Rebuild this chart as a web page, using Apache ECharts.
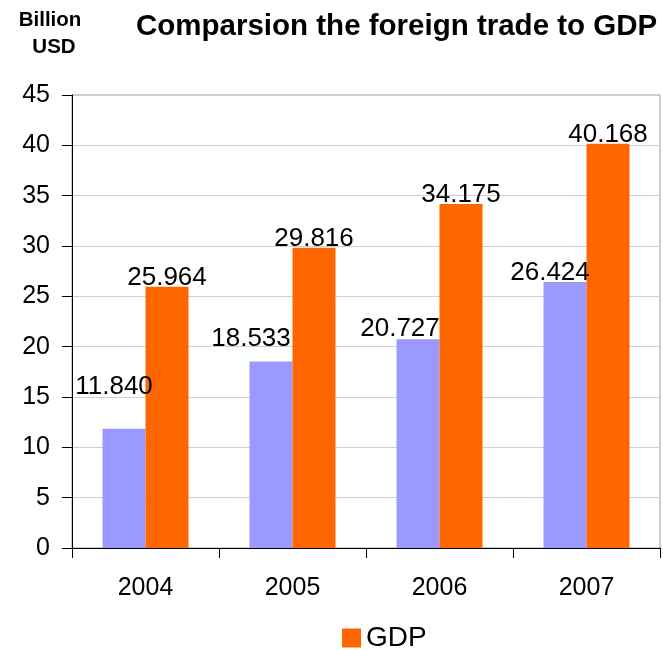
<!DOCTYPE html>
<html>
<head>
<meta charset="utf-8">
<script src="https://cdn.jsdelivr.net/npm/echarts@6/dist/echarts.min.js"></script>
<style>
  html, body { margin: 0; padding: 0; background: #fff; }
  #chart { width: 663px; height: 650px; }
</style>
</head>
<body>
<div id="chart"></div>
<script>
// Foreign trade vs GDP, billion USD
const years = ['2004', '2005', '2006', '2007'];
const foreignTrade = [11.840, 18.533, 20.727, 26.424];
const gdp = [25.964, 29.816, 34.175, 40.168];
const yTicks = { min: 0, max: 45, interval: 5 };

// Where each foreign-trade value label sits relative to its bar top
const tradeLabelNudge = [[-10, -33], [-20, -14], [-18, -2], [-15, 0]];

const FONT = '"Liberation Sans", Arial, sans-serif';

const chart = echarts.init(document.getElementById('chart'), null, { renderer: 'canvas' });

chart.setOption({
  animation: false,
  textStyle: { fontFamily: FONT },
  title: {
    text: 'Comparsion the foreign trade to GDP',
    left: 131,
    top: 7,
    textStyle: { fontFamily: FONT, fontWeight: 'bold', fontSize: 29.5, color: '#000' }
  },
  graphic: [
    { type: 'text', x: 50, y: 20, style: { text: 'Billion', font: 'bold 20.5px ' + FONT, fill: '#000', textAlign: 'center', textVerticalAlign: 'middle' } },
    { type: 'text', x: 54, y: 47, style: { text: 'USD', font: 'bold 20.5px ' + FONT, fill: '#000', textAlign: 'center', textVerticalAlign: 'middle' } }
  ],
  legend: {
    data: ['GDP'],
    left: 337,
    top: 619,
    itemWidth: 19,
    itemHeight: 19,
    itemGap: 8,
    icon: 'rect',
    textStyle: { fontFamily: FONT, fontSize: 28, color: '#000' }
  },
  grid: {
    left: 72, right: 3, top: 95, bottom: 102,
    show: true, borderColor: '#999', borderWidth: 1, backgroundColor: '#fff'
  },
  xAxis: {
    type: 'category',
    data: years,
    axisLine: { show: true, lineStyle: { color: '#000', width: 1 } },
    axisTick: { show: true, length: 10, alignWithLabel: false, lineStyle: { color: '#000' } },
    axisLabel: { fontFamily: FONT, fontSize: 25, color: '#000', margin: 28 }
  },
  yAxis: {
    type: 'value',
    min: yTicks.min, max: yTicks.max, interval: yTicks.interval,
    axisLine: { show: true, lineStyle: { color: '#000', width: 1 } },
    axisTick: { show: true, length: 10, lineStyle: { color: '#000' } },
    axisLabel: { fontFamily: FONT, fontSize: 25, color: '#000', margin: 22 },
    splitLine: { show: true, lineStyle: { color: '#cfcfcf', width: 1 } }
  },
  series: [
    {
      name: 'Foreign trade',
      type: 'bar',
      barWidth: 43,
      barGap: '0%',
      itemStyle: { color: '#9999FF' },
      data: foreignTrade.map((v, i) => ({
        value: v,
        label: { offset: tradeLabelNudge[i] }
      })),
      label: {
        show: true, position: 'top', distance: -4,
        fontFamily: FONT, fontSize: 26, color: '#000',
        formatter: p => p.value.toFixed(3)
      }
    },
    {
      name: 'GDP',
      type: 'bar',
      barWidth: 43,
      barGap: '0%',
      itemStyle: { color: '#FF6600' },
      data: gdp,
      label: {
        show: true, position: 'top', distance: -4,
        fontFamily: FONT, fontSize: 26, color: '#000',
        formatter: p => p.value.toFixed(3)
      }
    }
  ]
});
</script>
</body>
</html>
